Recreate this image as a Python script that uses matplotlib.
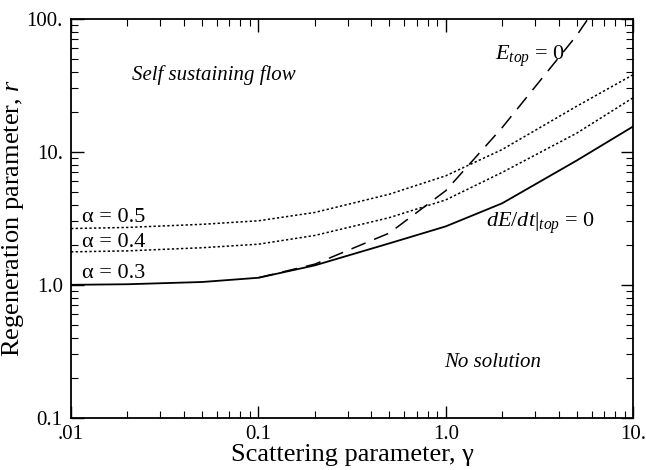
import numpy as np
import matplotlib
matplotlib.use('Agg')
import matplotlib.pyplot as plt

plt.rcParams['font.family'] = 'Liberation Serif'
plt.rcParams['mathtext.fontset'] = 'custom'
plt.rcParams['mathtext.rm'] = 'Liberation Serif'
plt.rcParams['mathtext.it'] = 'Liberation Serif:italic'

# scattering parameter gamma
gamma = [0.01, 0.02, 0.05, 0.1, 0.2, 0.5, 1.0, 2.0, 5.0, 10.0]
r_a03 = [1.0, 1.01, 1.05, 1.13, 1.40, 2.05, 2.75, 4.1, 8.6, 15.5]
r_a04 = [1.77, 1.80, 1.90, 2.02, 2.35, 3.2, 4.35, 7.0, 13.8, 25.5]
r_a05 = [2.65, 2.70, 2.85, 3.03, 3.5, 4.8, 6.6, 10.4, 22.0, 38.0]

gamma_e = [0.1, 0.2, 0.5, 1.0, 2.0, 5.0, 7.0]
r_etop = [1.13, 1.43, 2.45, 5.1, 15.2, 75.0, 150.0]

x_ticks = [0.01, 0.1, 1.0, 10.0]
x_labels = ['.01', '0.1', '1.0', '10.']
y_ticks = [0.1, 1.0, 10.0, 100.0]
y_labels = ['0.1', '1.0', '10.', '100.']

fig = plt.figure(figsize=(6.46, 4.70), dpi=100)
ax = fig.add_axes([0.110, 0.111, 0.870, 0.849])

ax.plot(gamma, r_a03, 'k-', lw=1.3)
ax.plot(gamma, r_a04, color='k', lw=1.1, ls=(0, (1.5, 1.5)))
ax.plot(gamma, r_a05, color='k', lw=1.1, ls=(0, (1.5, 1.5)))
ax.plot(gamma_e, r_etop, color='k', lw=1.1, ls=(0, (10, 6)))

ax.set_xscale('log')
ax.set_yscale('log')
ax.set_xlim(0.01, 10)
ax.set_ylim(0.1, 100)
ax.set_xticks(x_ticks)
ax.set_xticklabels(x_labels)
ax.set_yticks(y_ticks)
ax.set_yticklabels(y_labels)
ax.tick_params(which='both', direction='in', top=True, right=True, labelsize=15)
ax.tick_params(which='major', length=9, width=1.0)
ax.tick_params(which='minor', length=5, width=0.8)
ax.tick_params(axis='x', which='major', pad=5)
ax.tick_params(axis='y', which='major', pad=6)
for s in ax.spines.values():
    s.set_linewidth(1.3)

ax.set_xlabel('Scattering parameter, γ', fontsize=19, labelpad=0)
ax.set_ylabel('Regeneration parameter, $r$', fontsize=19, labelpad=0)

ax.text(0.058, 38, 'Self sustaining flow', style='italic', fontsize=15,
        ha='center', va='center')
ax.text(1.78, 0.26, 'No solution', style='italic', fontsize=15,
        ha='center', va='center')
ax.text(1.84, 52, r'$E_{top}$ = 0', fontsize=16, ha='left', va='center')
ax.text(1.65, 2.9, r'$dE/dt|_{top}$ = 0', fontsize=16, ha='left', va='center')
ax.text(0.0114, 3.2, 'α = 0.5', fontsize=16, ha='left', va='center')
ax.text(0.0114, 2.07, 'α = 0.4', fontsize=16, ha='left', va='center')
ax.text(0.0114, 1.21, 'α = 0.3', fontsize=16, ha='left', va='center')

fig.savefig('out.png', dpi=100)
